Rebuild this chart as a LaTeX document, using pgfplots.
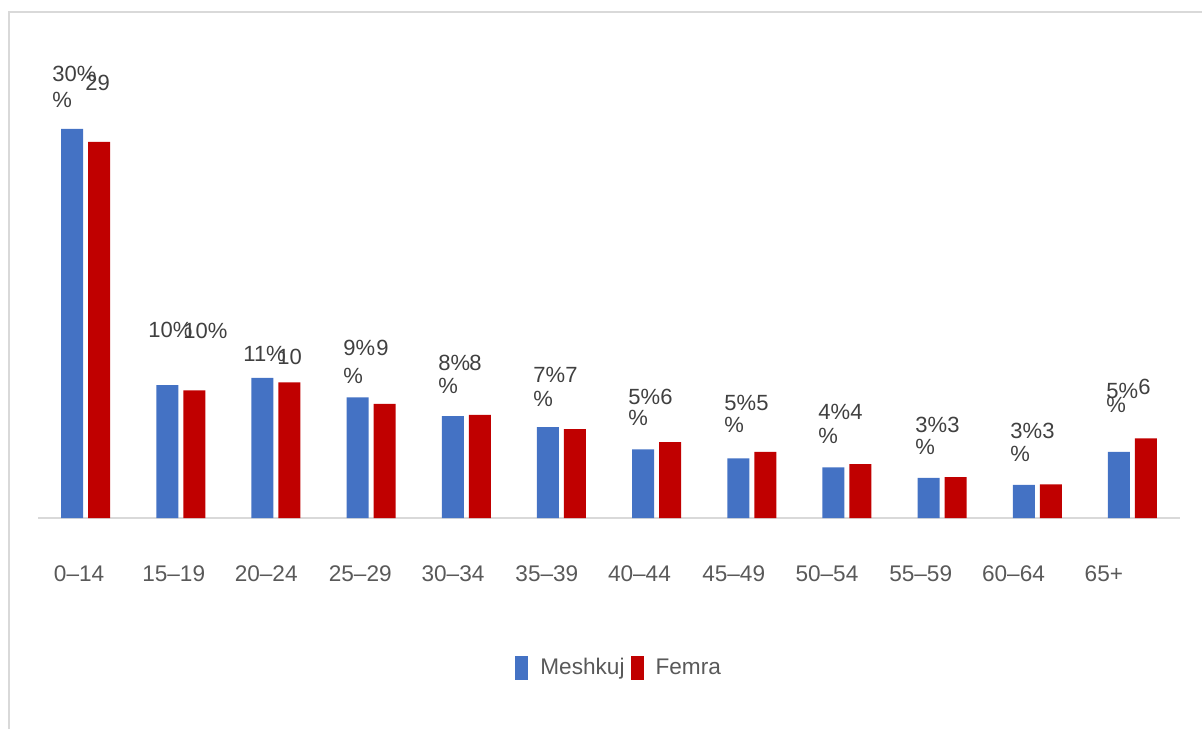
\documentclass[border=0pt]{standalone}
\usepackage{fontspec}
\setmainfont{Liberation Sans}
\usepackage{pgfplots}
\pgfplotsset{compat=1.18}
\definecolor{mblue}{HTML}{4472C4}
\definecolor{fred}{HTML}{C00000}
\definecolor{frame}{HTML}{D9D9D9}
\definecolor{labtxt}{HTML}{404040}
\definecolor{ticktxt}{HTML}{595959}

% data labels, placed in pixel units of the 1202x729 frame (1px = 0.5pt)
\newcommand{\lbl}[3]{\node[anchor=west,inner sep=0pt,text=labtxt,font=\fontsize{11}{13}\selectfont] at (#1*0.5pt,-#2*0.5pt) {#3};}

\begin{document}
\begin{tikzpicture}
\useasboundingbox (0,0) rectangle (601pt,-364.5pt);
\draw[frame,line width=1pt] (4.5pt,-364.5pt) -- (4.5pt,-6pt) -- (601pt,-6pt);

\begin{axis}[
    at={(19pt,-259pt)}, anchor=south west,
    scale only axis,
    width=571pt, height=207.5pt,
    xmin=-0.5, xmax=11.5, ymin=0, ymax=32,
    ybar=2.5pt, bar width=11pt,
    axis y line=none,
    axis x line*=bottom,
    x axis line style={draw=frame,line width=1pt},
    xtick={-0.068,0.926,1.898,2.886,3.861,4.847,5.82,6.81,7.79,8.775,9.75,10.70},
    xticklabels={0--14,15--19,20--24,25--29,30--34,35--39,40--44,45--49,50--54,55--59,60--64,65+},
    major tick length=0pt,
    xticklabel style={anchor=center,yshift=-27.75pt,text=ticktxt,font=\fontsize{11.3}{13}\selectfont},
    enlargelimits=false,
    clip=false,
    legend columns=2,
    legend style={at={(0.4177,-0.3614)}, anchor=west, draw=none, fill=none,
        inner sep=0pt, text=ticktxt, font=\fontsize{11.3}{13}\selectfont,
        nodes={inner sep=1pt},
        /tikz/every odd column/.append style={column sep=5pt},
        /tikz/every even column/.append style={column sep=2pt}},
    legend image code/.code={\fill[#1] (0pt,-6pt) rectangle (6.5pt,6pt);},
]
\addplot[fill=mblue,draw=none] coordinates {
 (0,30.0) (1,10.25) (2,10.8) (3,9.3) (4,7.85) (5,7.0)
 (6,5.3) (7,4.6) (8,3.9) (9,3.1) (10,2.55) (11,5.1)};
\addplot[fill=fred,draw=none] coordinates {
 (0,29.0) (1,9.85) (2,10.45) (3,8.8) (4,7.95) (5,6.85)
 (6,5.85) (7,5.1) (8,4.15) (9,3.15) (10,2.6) (11,6.15)};
\legend{Meshkuj,Femra}
\end{axis}

\lbl{52}{74}{30\%}   \lbl{52}{100}{\%}   \lbl{85}{82.5}{29}
\lbl{148}{329.5}{10\%} \lbl{183}{331}{10\%}
\lbl{243}{353.5}{11\%} \lbl{277}{356.7}{10}
\lbl{343}{348.3}{9\%} \lbl{343}{376}{\%} \lbl{376}{348.3}{9}
\lbl{438}{362.5}{8\%} \lbl{438}{386}{\%} \lbl{469}{362.5}{8}
\lbl{533}{374.5}{7\%} \lbl{533}{399}{\%} \lbl{565}{374.5}{7}
\lbl{628}{396.7}{5\%} \lbl{628}{418}{\%} \lbl{660}{396.7}{6}
\lbl{724}{403.3}{5\%} \lbl{724}{425}{\%} \lbl{756}{403.3}{5}
\lbl{818}{412}{4\%} \lbl{818}{436}{\%} \lbl{850}{412}{4}
\lbl{915}{425}{3\%} \lbl{915}{447}{\%} \lbl{947}{425}{3}
\lbl{1010}{430.5}{3\%} \lbl{1010}{454.3}{\%} \lbl{1042}{430.5}{3}
\lbl{1106}{391}{5\%} \lbl{1106}{404.7}{\%} \lbl{1138}{386.5}{6}
\end{tikzpicture}
\end{document}
